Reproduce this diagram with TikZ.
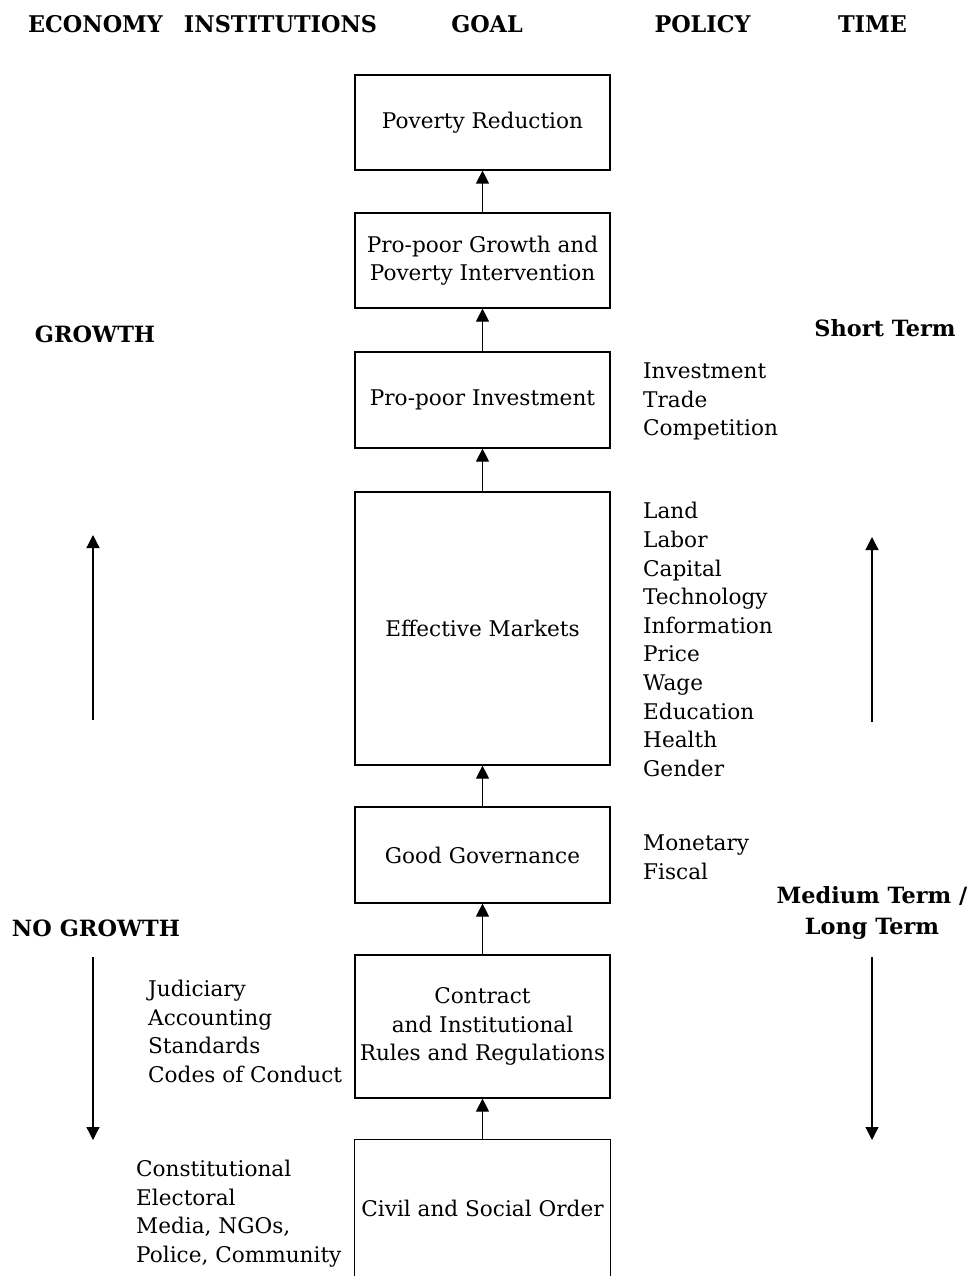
\documentclass[tikz,border=0pt]{standalone}
\usepackage{fontspec}
\setmainfont{DejaVu Serif}
\newfontfamily\hdfont{DejaVu Serif}[FakeStretch=0.97]
\usetikzlibrary{arrows.meta}
\tikzset{
  x=1pt, y=-1pt,
  body/.style={font=\fontsize{21.6}{28.6}\selectfont},
  gbox/.style={body, draw, line width=1.2pt, minimum width=255pt, inner sep=0pt, align=center},
  lst/.style={body, anchor=west, align=left, inner sep=0pt},
  hdr/.style={font=\hdfont\bfseries\fontsize{23}{26}\selectfont, inner sep=0pt},
  side/.style={font=\bfseries\fontsize{22.4}{31}\selectfont, inner sep=0pt, align=center},
  arr/.style={line width=1.2pt, -{Triangle[width=13pt,length=13pt]}}
}
\begin{document}
\begin{tikzpicture}
\useasboundingbox (0,0) rectangle (971,1276);
% headers
\node[hdr] (h1) at (95.5,24) {ECONOMY};
\node[hdr] (h2) at (280.5,24) {INSTITUTIONS};
\node[hdr] (h3) at (487,24) {GOAL};
\node[hdr] (h4) at (702.5,24) {POLICY};
\node[hdr] (h5) at (872.5,24) {TIME};
% boxes
\node[gbox, minimum height=95pt] (b1) at (482.5,122.5) {Poverty Reduction};
\node[gbox, minimum height=95pt] (b2) at (482.5,260.5) {Pro-poor Growth and\\Poverty Intervention};
\node[gbox, minimum height=96pt] (b3) at (482.5,400) {Pro-poor Investment};
\node[gbox, minimum height=273pt] (b4) at (482.5,628.5) {Effective Markets};
\node[gbox, minimum height=96pt] (b5) at (482.5,855) {Good Governance};
\node[gbox, minimum height=143pt] (b6) at (482.5,1026.5) {Contract\\and Institutional\\Rules and Regulations};
\node[gbox, draw=none, minimum height=136pt] (b7) at (482.5,1208) {Civil and Social Order};
\draw[line width=1.2pt] (b7.south west) -- (b7.north west) -- (b7.north east) -- (b7.south east);
% vertical arrows
\draw[arr] (b2) -- (b1);
\draw[arr] (b3) -- (b2);
\draw[arr] (b4) -- (b3);
\draw[arr] (b5) -- (b4);
\draw[arr] (b6) -- (b5);
\draw[arr] (b7) -- (b6);
% policy lists
\node[lst] (p1) at (643,401.5) {Investment\\Trade\\Competition};
\node[lst] (p2) at (643,639.5) {Land\\Labor\\Capital\\Technology\\Information\\Price\\Wage\\Education\\Health\\Gender};
\node[lst] (p3) at (643,857) {Monetary\\Fiscal};
% institution lists
\node[lst] (i1) at (148,1031.5) {Judiciary\\Accounting\\Standards\\Codes of Conduct};
\node[lst] (i2) at (136,1213.5) {Constitutional\\Electoral\\Media, NGOs,\\Police, Community};
% side labels
\node[side] (g) at (95,334) {GROWTH};
\node[side] (ng) at (96,928) {NO GROWTH};
\node[side] (st) at (885,328) {Short Term};
\node[side] (mt) at (872,912.5) {Medium Term /\\Long Term};
% side arrows
\coordinate (lu1) at (93,720); \coordinate (lu2) at (93,535);
\coordinate (ru1) at (872,722); \coordinate (ru2) at (872,537);
\coordinate (ld1) at (93,957); \coordinate (ld2) at (93,1140);
\coordinate (rd1) at (872,957); \coordinate (rd2) at (872,1140);
\draw[arr] (lu1) -- (lu2);
\draw[arr] (ru1) -- (ru2);
\draw[arr] (ld1) -- (ld2);
\draw[arr] (rd1) -- (rd2);
\end{tikzpicture}
\end{document}
